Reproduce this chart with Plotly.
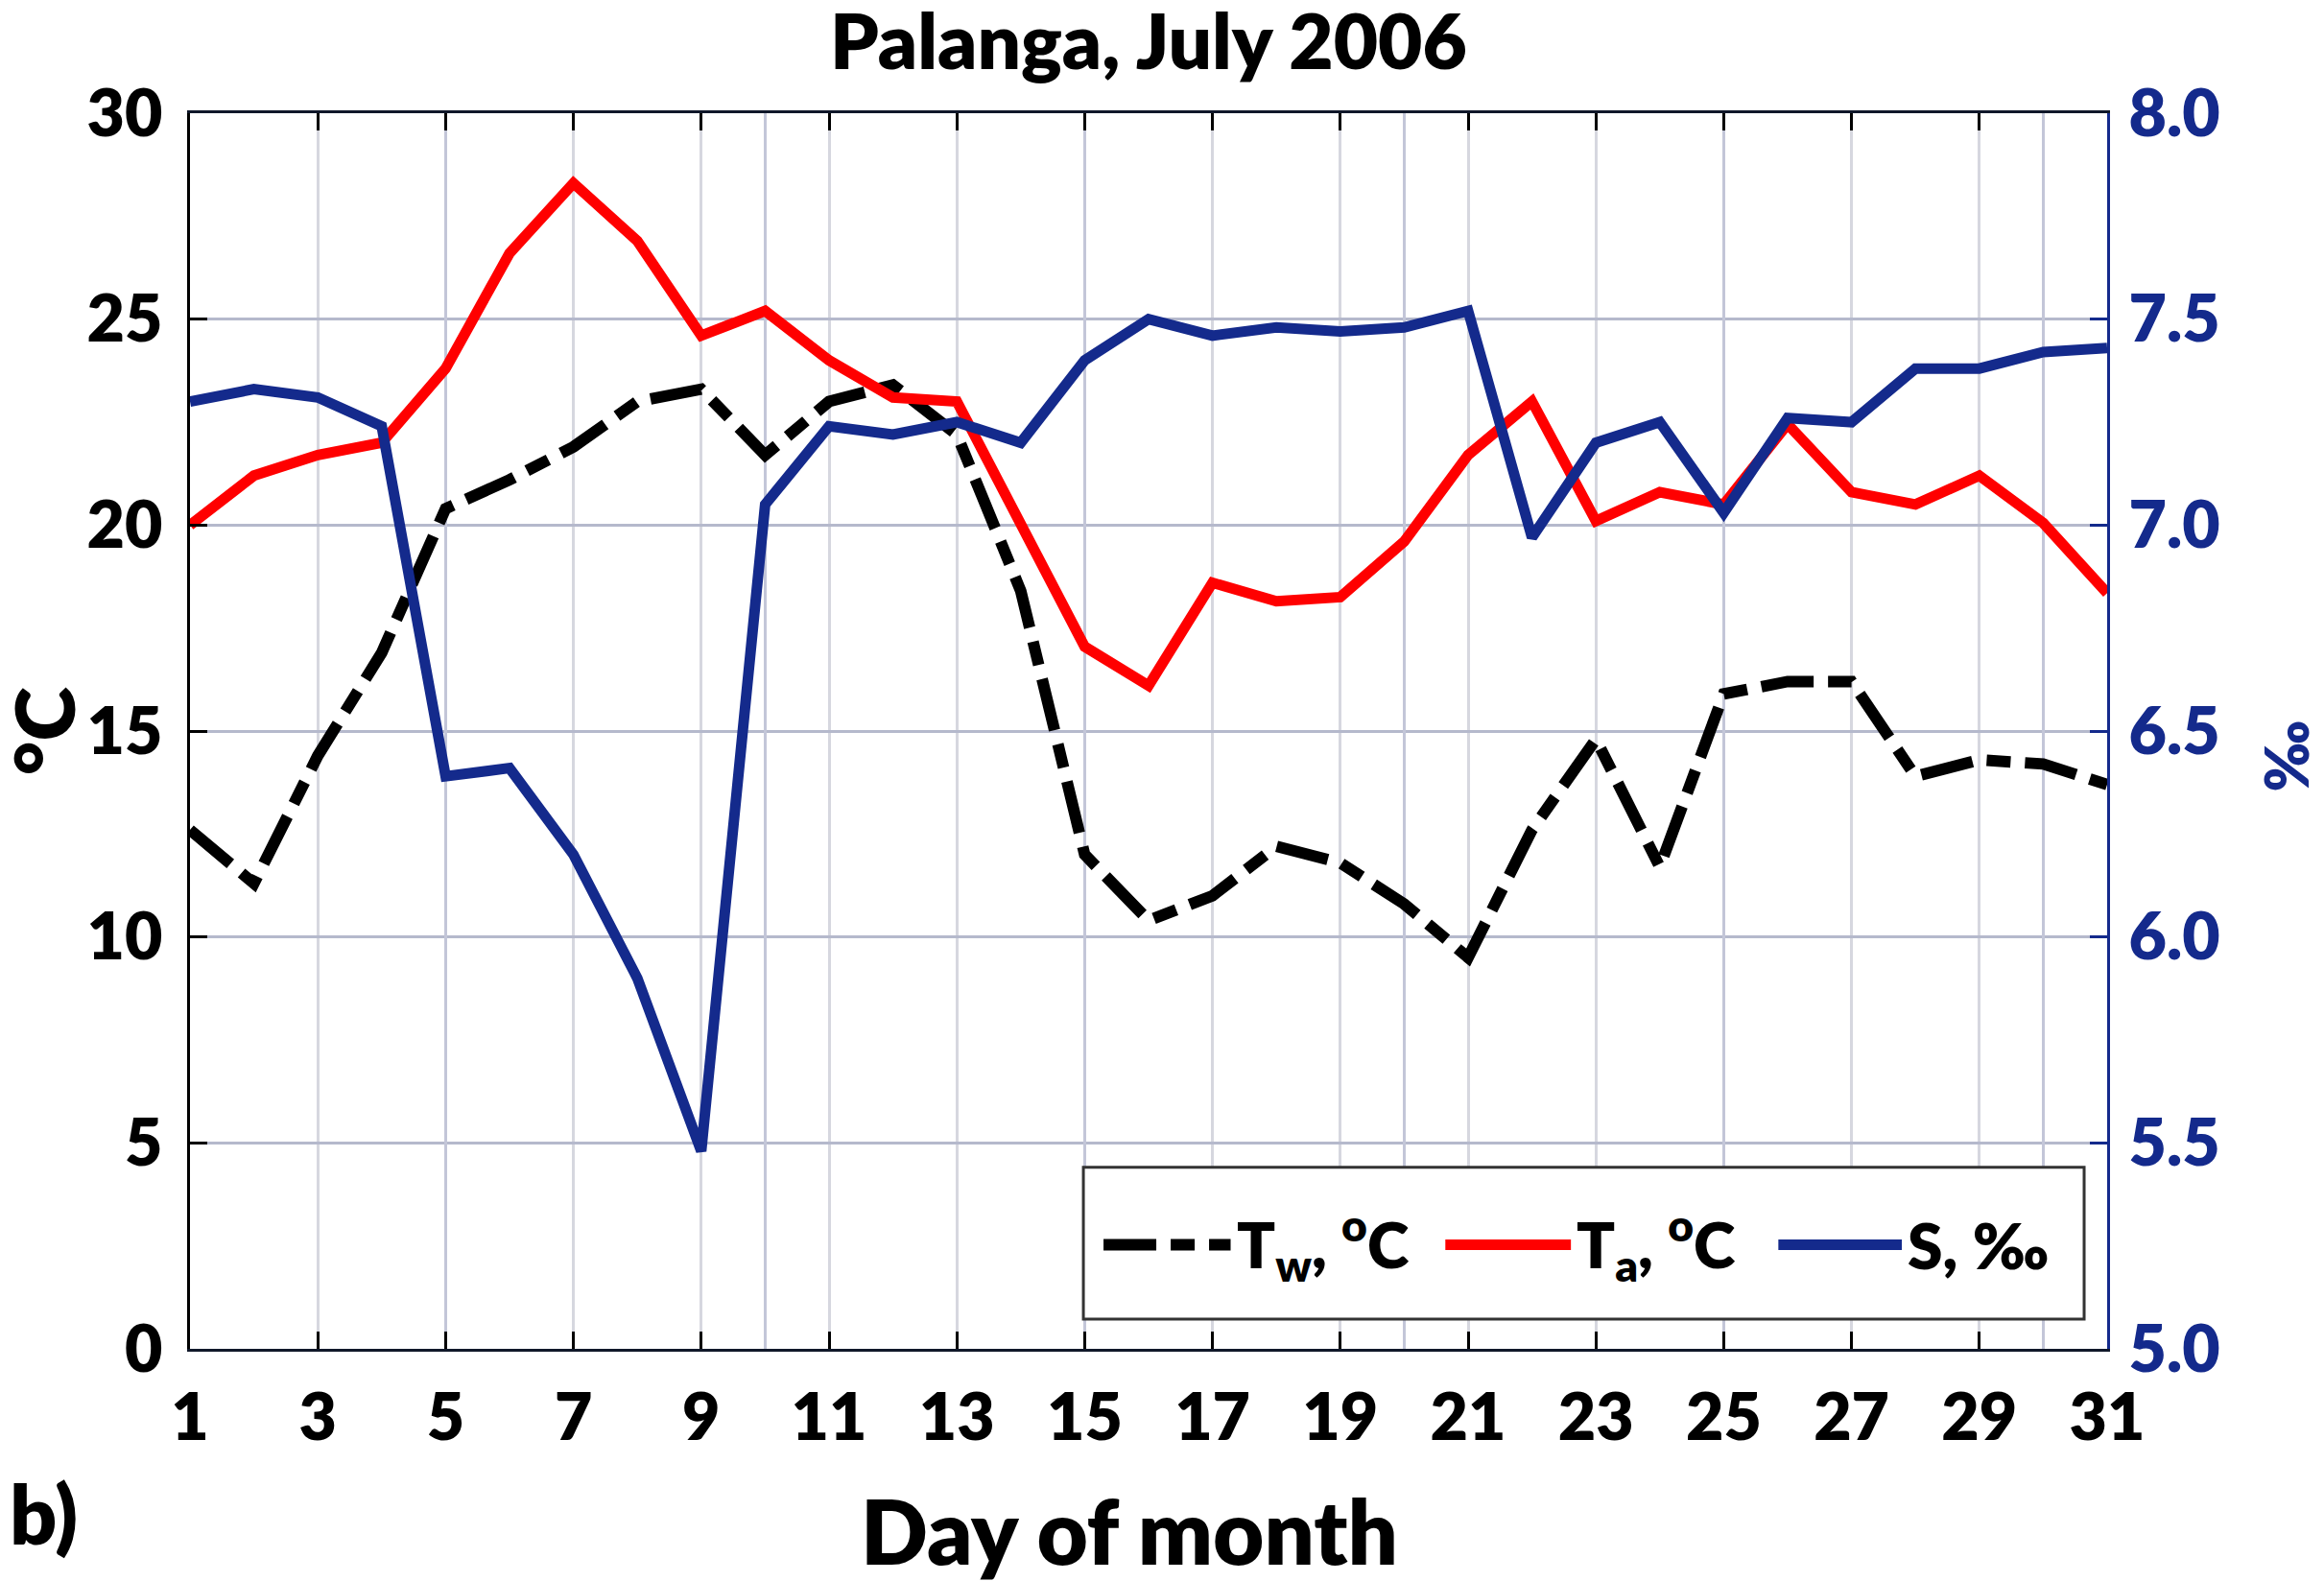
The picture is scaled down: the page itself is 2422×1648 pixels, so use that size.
import plotly.graph_objects as go

# Palanga, July 2006: water temperature, air temperature and salinity
days = list(range(1, 32))
t_water = [12.6, 11.3, 14.4, 16.9, 20.4, 21.1, 21.9, 23.0, 23.3, 21.7, 23.0, 23.4, 22.2, 18.4, 12.0,
           10.4, 11.0, 12.2, 11.8, 10.8, 9.5, 12.6, 14.8, 11.7, 15.9, 16.2, 16.2, 13.9, 14.3, 14.2, 13.7]
t_air = [20.0, 21.2, 21.7, 22.0, 23.8, 26.6, 28.3, 26.9, 24.6, 25.2, 24.0, 23.1, 23.0, 20.0, 17.05,
         16.1, 18.6, 18.15, 18.25, 19.6, 21.7, 23.0, 20.1, 20.8, 20.5, 22.45, 20.8, 20.5, 21.2, 20.05, 18.35]
salinity = [7.30, 7.33, 7.31, 7.24, 6.39, 6.41, 6.20, 5.90, 5.48, 7.05, 7.24, 7.22, 7.25, 7.20, 7.40,
            7.50, 7.46, 7.48, 7.47, 7.48, 7.52, 6.97, 7.20, 7.25, 7.03, 7.26, 7.25, 7.38, 7.38, 7.42, 7.43]

x_ticks = list(range(1, 32, 2))
x_grid5 = list(range(5, 31, 5))
y_ticks = [0, 5, 10, 15, 20, 25, 30]
s_ticks = [5.0, 5.5, 6.0, 6.5, 7.0, 7.5, 8.0]

BLUE = "#142a8c"
FONT = "Lato"
W = 800  # heavy weight, closer to the bold Calibri of the original
tw_dash = "55px,15px,25px,15px"

fig = go.Figure()
fig.add_trace(go.Scatter(x=days, y=t_water, mode="lines", name="Tw",
                         line=dict(color="black", width=12, dash=tw_dash)))
fig.add_trace(go.Scatter(x=days, y=t_air, mode="lines", name="Ta",
                         line=dict(color="#ff0000", width=11)))
fig.add_trace(go.Scatter(x=days, y=salinity, mode="lines", name="S",
                         line=dict(color=BLUE, width=11), xaxis="x2", yaxis="y2"))

tickfont = dict(family=FONT, size=68, color="black", weight=W)

# page body has an 8px default margin, so the figure is 8px smaller than the window
fig.update_layout(
    width=2414, height=1640,
    margin=dict(l=190, r=226, t=110, b=242),
    paper_bgcolor="white", plot_bgcolor="white",
    showlegend=False,
    title=dict(text="Palanga, July 2006", x=0.5, xref="paper", y=0.978, yanchor="middle",
               font=dict(family=FONT, size=80, color="black", weight=W)),
    xaxis=dict(range=[1, 31], tickvals=x_ticks, ticks="inside", ticklen=18, tickwidth=3,
               tickcolor="black", showline=True, linecolor="#10182a", linewidth=3,
               mirror="ticks", showgrid=True, gridcolor="#d6d7df", gridwidth=3,
               zeroline=False, tickfont=tickfont, ticklabelstandoff=10),
    xaxis2=dict(range=[1, 31], overlaying="x", tickvals=x_grid5, showticklabels=False,
                ticks="", showline=False, showgrid=True, gridcolor="#c3c6d8", gridwidth=3,
                zeroline=False),
    yaxis=dict(range=[0, 30], tickvals=y_ticks, ticks="inside", ticklen=18, tickwidth=3,
               tickcolor="black", showline=True, linecolor="black", linewidth=3,
               showgrid=True, gridcolor="#b5b9cc", gridwidth=3, zeroline=False,
               tickfont=tickfont, ticklabelstandoff=12),
    yaxis2=dict(range=[5, 8], tickvals=s_ticks, tickformat=".1f", overlaying="y", side="right",
                ticks="inside", ticklen=18, tickwidth=3, tickcolor=BLUE, showline=True,
                linecolor=BLUE, linewidth=3, showgrid=False, zeroline=False,
                tickfont=dict(family=FONT, size=68, color=BLUE, weight=W),
                ticklabelstandoff=6),
)

# axis titles and panel label
fig.add_annotation(text="°C", xref="paper", yref="paper", x=-0.077, xanchor="center",
                   y=0.5, yanchor="middle", textangle=-90, showarrow=False,
                   font=dict(family=FONT, size=86, color="black", weight=W))
fig.add_annotation(text="‰", xref="paper", yref="paper", x=1.093, xanchor="center",
                   y=0.48, yanchor="middle", textangle=-90, showarrow=False,
                   font=dict(family=FONT, size=62, color=BLUE, weight=W))
fig.add_annotation(text="Day of month", xref="paper", yref="paper", x=0.49, xanchor="center",
                   y=-0.147, yanchor="middle", showarrow=False,
                   font=dict(family=FONT, size=92, color="black", weight=W))
fig.add_annotation(text="b)", xref="paper", yref="paper", x=-0.095, xanchor="left",
                   y=-0.132, yanchor="middle", showarrow=False,
                   font=dict(family=FONT, size=86, color="black", weight=W))

# legend box drawn by hand to get MATLAB-style long line samples
fig.add_shape(type="rect", xref="paper", yref="paper", x0=0.466, x1=0.988, y0=0.024, y1=0.147,
              line=dict(color="#333333", width=3), fillcolor="white", layer="above")
legend_items = [
    ("T<sub>w</sub>, <sup>o</sup>C", dict(color="black", width=12, dash=tw_dash), 0.4765, 0.5428),
    ("T<sub>a</sub>, <sup>o</sup>C", dict(color="#ff0000", width=11), 0.6548, 0.7203),
    ("S, ‰", dict(color=BLUE, width=11), 0.8285, 0.8929),
]
for label, line, x0, x1 in legend_items:
    fig.add_shape(type="line", xref="paper", yref="paper", x0=x0, x1=x1, y0=0.0843, y1=0.0843,
                  line=line, layer="above")
    fig.add_annotation(text=label, xref="paper", yref="paper", x=x1 + 0.002, xanchor="left",
                       y=0.0843, yanchor="middle", showarrow=False,
                       font=dict(family=FONT, size=66, color="black", weight=W))

fig.write_html("out.html")
